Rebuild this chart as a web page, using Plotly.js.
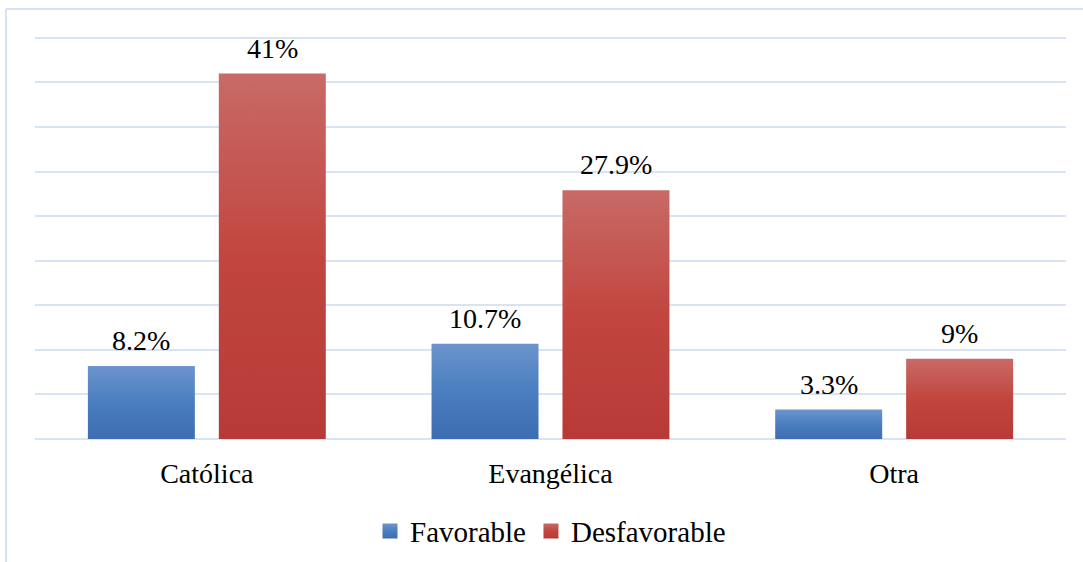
<!DOCTYPE html>
<html>
<head>
<meta charset="utf-8">
<script src="https://cdn.plot.ly/plotly-3.0.1.min.js"></script>
<style>
  html, body { margin: 0; padding: 0; background: #ffffff; }
  #chart { width: 1083px; height: 562px; }
</style>
</head>
<body>
<div id="chart"></div>
<script>
// Opinión según religión
const categories = ['Católica', 'Evangélica', 'Otra'];
const favorable = [8.2, 10.7, 3.3];
const desfavorable = [41, 27.9, 9];
const seriesNames = ['Favorable', 'Desfavorable'];

const FONT = 'Liberation Serif';
const BARGAP = 0.238;
const BARGROUPGAP = 0.183;

function fmt(v) { return v + '%'; }

const traces = [
  { type: 'bar', name: seriesNames[0], x: categories, y: favorable,
    marker: { color: '#4f80bd' }, hoverinfo: 'skip' },
  { type: 'bar', name: seriesNames[1], x: categories, y: desfavorable,
    marker: { color: '#c0504d' }, hoverinfo: 'skip' }
];

// value labels centred above each bar of the grouped pair
const slot = (1 - BARGAP) / 2;
const annotations = [];
[favorable, desfavorable].forEach((vals, s) => {
  vals.forEach((v, i) => {
    annotations.push({
      xref: 'x', yref: 'y', x: i + (s - 0.5) * slot, y: v,
      text: fmt(v), showarrow: false, yanchor: 'bottom', yshift: 8,
      font: { family: FONT, size: 28, color: '#000000' }
    });
  });
});

const borderColor = '#d6e3f3';
const layout = {
  width: 1083, height: 562,
  font: { family: FONT, color: '#000000' },
  margin: { l: 35, r: 17, t: 29, b: 123 },
  paper_bgcolor: '#ffffff', plot_bgcolor: '#ffffff',
  barmode: 'group', bargap: BARGAP, bargroupgap: BARGROUPGAP,
  showlegend: true,
  legend: { orientation: 'h', x: 0.5, xanchor: 'center', xref: 'paper',
            yref: 'container', y: 0.055, yanchor: 'middle',
            font: { family: FONT, size: 29, color: '#000000' },
            itemwidth: 30, traceorder: 'normal' },
  xaxis: { type: 'category', showgrid: false, zeroline: false, showline: false,
           ticks: 'outside', ticklen: 9, tickcolor: 'rgba(0,0,0,0)',
           tickfont: { family: FONT, size: 28, color: '#000000' } },
  yaxis: { range: [0, 46], tickvals: [0, 5, 10, 15, 20, 25, 30, 35, 40, 45],
           showticklabels: false, showgrid: true,
           gridcolor: '#d9e4f3', gridwidth: 2, zeroline: true,
           zerolinecolor: '#d9e4f3', zerolinewidth: 2, showline: false },
  annotations: annotations,
  shapes: [
    { type: 'line', xref: 'paper', yref: 'paper', x0: -0.0281, x1: -0.0281, y0: 1.0488, y1: -0.32,
      line: { color: borderColor, width: 2 } },
    { type: 'line', xref: 'paper', yref: 'paper', x0: -0.0281, x1: 1.03, y0: 1.0488, y1: 1.0488,
      line: { color: borderColor, width: 2 } }
  ]
};

const gradients = {
  gradBlue: [['0%', '#6c94cc'], ['50%', '#4a7ec0'], ['100%', '#3c6db0']],
  gradRed: [['0%', '#c86a66'], ['50%', '#c2463f'], ['100%', '#b73a37']]
};

function applyGradients(gd) {
  const svg = gd.querySelector('svg.main-svg');
  const NS = 'http://www.w3.org/2000/svg';
  let defs = svg.querySelector('defs');
  if (!defs) { defs = document.createElementNS(NS, 'defs'); svg.insertBefore(defs, svg.firstChild); }
  Object.keys(gradients).forEach(id => {
    if (document.getElementById(id)) return;
    const g = document.createElementNS(NS, 'linearGradient');
    g.setAttribute('id', id);
    g.setAttribute('x1', '0'); g.setAttribute('y1', '0');
    g.setAttribute('x2', '0'); g.setAttribute('y2', '1');
    gradients[id].forEach(([off, col]) => {
      const st = document.createElementNS(NS, 'stop');
      st.setAttribute('offset', off);
      st.setAttribute('stop-color', col);
      g.appendChild(st);
    });
    defs.appendChild(g);
  });
  const ids = ['gradBlue', 'gradRed'];
  gd.querySelectorAll('.barlayer .trace.bars').forEach((tr, k) => {
    tr.querySelectorAll('path').forEach(p => { p.style.fill = 'url(#' + ids[k] + ')'; });
  });
  gd.querySelectorAll('.legend .traces').forEach((tr, k) => {
    tr.querySelectorAll('.legendpoints path').forEach(p => {
      p.style.fill = 'url(#' + ids[k] + ')';
      p.setAttribute('d', 'M7.5,7.5H-7.5V-7.5H7.5Z');
    });
  });
}

Plotly.newPlot('chart', traces, layout, { staticPlot: true, displayModeBar: false })
  .then(gd => applyGradients(gd));
</script>
</body>
</html>
